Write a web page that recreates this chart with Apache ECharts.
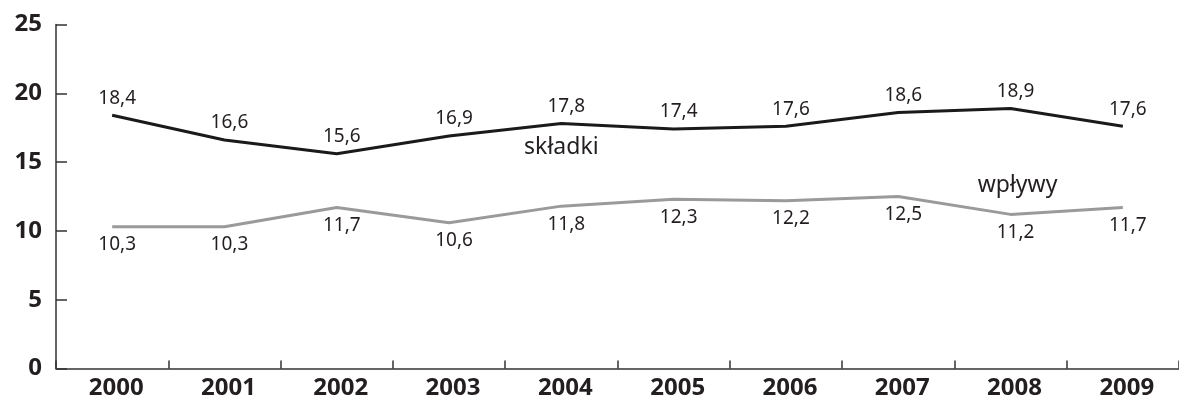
<!DOCTYPE html>
<html>
<head>
<meta charset="utf-8">
<script src="https://cdn.jsdelivr.net/npm/echarts@6/dist/echarts.min.js"></script>
<style>
html,body{margin:0;padding:0;background:#fff;}
#chart{width:1179px;height:401px;}
</style>
</head>
<body>
<div id="chart"></div>
<script>
var years = ['2000', '2001', '2002', '2003', '2004', '2005', '2006', '2007', '2008', '2009'];
var skladki = [18.4, 16.6, 15.6, 16.9, 17.8, 17.4, 17.6, 18.6, 18.9, 17.6];
var wplywy = [10.3, 10.3, 11.7, 10.6, 11.8, 12.3, 12.2, 12.5, 11.2, 11.7];

var chart = echarts.init(document.getElementById('chart'));

// polish decimal comma
function fmt(p) {
    return String(p.value).replace('.', ',');
}

var labelFont = {
    fontFamily: 'Noto Sans',
    fontSize: 19,
    color: '#231f20'
};

var option = {
    animation: false,
    grid: {
        left: 56,
        top: 24.5,
        width: 1142,
        height: 344
    },
    xAxis: {
        type: 'category',
        data: years,
        boundaryGap: true,
        axisLine: { show: true, lineStyle: { color: '#333', width: 1.5 } },
        axisTick: { show: true, inside: true, length: 8, interval: 0, lineStyle: { color: '#333', width: 1.5 } },
        axisLabel: {
            margin: 8,
            interval: 0,
            padding: [0, 0, 0, 8],
            fontFamily: 'Noto Sans',
            fontWeight: 'bold',
            fontSize: 24,
            color: '#231f20'
        }
    },
    yAxis: {
        type: 'value',
        min: 0,
        max: 25,
        interval: 5,
        splitLine: { show: false },
        axisLine: { show: true, lineStyle: { color: '#333', width: 1.5 } },
        axisTick: { show: true, inside: true, length: 11, lineStyle: { color: '#333', width: 1.5 } },
        axisLabel: {
            margin: 14,
            fontFamily: 'Noto Sans',
            fontWeight: 'bold',
            fontSize: 24,
            color: '#231f20'
        }
    },
    series: [
        {
            name: 'składki',
            type: 'line',
            data: skladki,
            symbol: 'circle',
            symbolSize: 1,
            itemStyle: { color: 'transparent' },
            lineStyle: { color: '#1a1a1a', width: 3 },
            label: Object.assign({ show: true, position: 'top', distance: 7, offset: [5, 0], formatter: fmt }, labelFont),
            markPoint: {
                symbol: 'circle',
                symbolSize: 1,
                itemStyle: { color: 'transparent' },
                label: { show: true, position: 'inside', formatter: 'składki', fontFamily: 'Noto Sans', fontSize: 23, color: '#231f20' },
                data: [{ coord: ['2004', 16.06] }]
            }
        },
        {
            name: 'wpływy',
            type: 'line',
            data: wplywy,
            symbol: 'circle',
            symbolSize: 1,
            itemStyle: { color: 'transparent' },
            lineStyle: { color: '#9a9a9a', width: 3 },
            label: Object.assign({ show: true, position: 'bottom', distance: 8, offset: [5, 0], formatter: fmt }, labelFont),
            markPoint: {
                symbol: 'circle',
                symbolSize: 1,
                itemStyle: { color: 'transparent' },
                label: { show: true, position: 'inside', offset: [7, 0], formatter: 'wpływy', fontFamily: 'Noto Sans', fontSize: 23, color: '#231f20' },
                data: [{ coord: ['2008', 13.3] }]
            }
        }
    ]
};

chart.setOption(option);
</script>
</body>
</html>
